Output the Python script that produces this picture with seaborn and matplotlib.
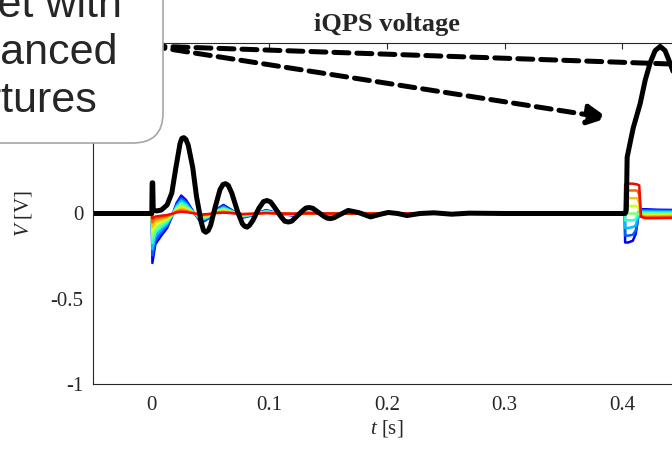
"""iQPS voltage traces: a family of coloured runs plus one highlighted run."""

import matplotlib

matplotlib.use("Agg")
import matplotlib.pyplot as plt
import numpy as np
import pandas as pd
import seaborn as sns
from matplotlib.patches import FancyArrowPatch, FancyBboxPatch
from matplotlib.transforms import IdentityTransform

# ---- data ------------------------------------------------------------------
# time grid shared by the coloured family [s]
t_fan = [-0.05, 0.0, 0.0005, 0.003, 0.008, 0.013, 0.017, 0.021, 0.025, 0.029,
         0.034, 0.042, 0.048, 0.054, 0.061, 0.068, 0.077, 0.086, 0.097, 0.108,
         0.12, 0.135, 0.15, 0.17, 0.2, 0.4,
         0.4022, 0.4025, 0.405, 0.409, 0.4115, 0.413, 0.4145, 0.416, 0.42,
         0.43, 0.45]

# coloured runs, blue (first) to red (last) [V]
fan_blue = [0, 0, -0.29, -0.18, -0.13, -0.085, -0.02, 0.06, 0.105, 0.08, 0.025,
            -0.055, -0.03, 0.02, 0.05, 0.02, -0.025, -0.01, 0.02, 0.0, -0.012,
            0.008, -0.005, 0.003, 0, 0,
            0, -0.17, -0.17, -0.16, -0.12, -0.05, 0.02, 0.025, 0.025, 0.022, 0.02]
fan_blue2 = [0, 0, -0.245, -0.155, -0.11, -0.072, -0.017, 0.051, 0.089, 0.068,
             0.021, -0.047, -0.026, 0.017, 0.043, 0.017, -0.021, -0.009, 0.017,
             0, -0.01, 0.007, -0.004, 0.003, 0, 0,
             0, -0.13, -0.13, -0.125, -0.10, -0.04, 0.015, 0.019, 0.019, 0.017,
             0.015]
fan_azure = [0, 0, -0.21, -0.13, -0.094, -0.061, -0.014, 0.043, 0.076, 0.058,
             0.018, -0.04, -0.022, 0.014, 0.036, 0.014, -0.018, -0.007, 0.014,
             0, -0.009, 0.006, -0.004, 0.002, 0, 0,
             0, -0.085, -0.085, -0.08, -0.07, -0.03, 0.008, 0.012, 0.012, 0.011,
             0.01]
fan_cyan = [0, 0, -0.175, -0.108, -0.078, -0.051, -0.012, 0.036, 0.063, 0.048,
            0.015, -0.033, -0.018, 0.012, 0.03, 0.012, -0.015, -0.006, 0.012,
            0, -0.007, 0.005, -0.003, 0.002, 0, 0,
            0, -0.04, -0.04, -0.04, -0.035, -0.015, 0.0, 0.005, 0.005, 0.005,
            0.004]
fan_green = [0, 0, -0.14, -0.086, -0.062, -0.041, -0.01, 0.029, 0.05, 0.038,
             0.012, -0.026, -0.014, 0.01, 0.024, 0.01, -0.012, -0.005, 0.01,
             0, -0.006, 0.004, -0.002, 0.001, 0, 0,
             0, 0.0, 0.0, 0.0, 0.0, 0.0, -0.003, -0.002, -0.002, -0.002, -0.002]
fan_yellow = [0, 0, -0.107, -0.067, -0.048, -0.031, -0.007, 0.022, 0.039, 0.03,
              0.009, -0.02, -0.011, 0.007, 0.019, 0.007, -0.009, -0.004, 0.007,
              0, -0.004, 0.003, -0.002, 0.001, 0, 0,
              0, 0.045, 0.045, 0.045, 0.045, 0.04, 0.02, -0.008, -0.009,
              -0.008, -0.008]
fan_orange = [0, 0, -0.078, -0.049, -0.035, -0.023, -0.005, 0.016, 0.028, 0.022,
              0.007, -0.015, -0.008, 0.005, 0.014, 0.005, -0.007, -0.003, 0.005,
              0, -0.003, 0.002, -0.001, 0.001, 0, 0,
              0, 0.09, 0.09, 0.09, 0.09, 0.088, 0.06, -0.014, -0.016, -0.015,
              -0.014]
fan_redorange = [0, 0, -0.052, -0.032, -0.023, -0.015, -0.004, 0.011, 0.019,
                 0.014, 0.005, -0.01, -0.005, 0.004, 0.009, 0.004, -0.005,
                 -0.002, 0.004, 0, -0.002, 0.001, -0.001, 0, 0, 0,
                 0, 0.13, 0.135, 0.135, 0.135, 0.133, 0.11, -0.015, -0.022,
                 -0.021, -0.02]
fan_red = [0, 0, -0.029, -0.018, -0.013, -0.009, -0.002, 0.006, 0.01, 0.008,
           0.003, -0.006, -0.003, 0.002, 0.005, 0.002, -0.003, -0.001, 0.002,
           0, -0.001, 0.001, 0, 0, 0, 0,
           0, 0.17, 0.175, 0.175, 0.172, 0.17, 0.165, -0.02, -0.028, -0.027,
           -0.025]
fan_runs = [fan_blue, fan_blue2, fan_azure, fan_cyan, fan_green, fan_yellow,
            fan_orange, fan_redorange, fan_red]

# highlighted run (black)
t_black = [-0.05, 0.0, 0.0003, 0.0008, 0.0012, 0.004, 0.008, 0.013, 0.017,
           0.0205, 0.024, 0.0255, 0.0272, 0.029, 0.031, 0.0348, 0.038, 0.042,
           0.044, 0.0459, 0.048, 0.050, 0.054, 0.058, 0.0605, 0.0628, 0.065,
           0.068, 0.073, 0.077, 0.079, 0.081, 0.083, 0.086, 0.091, 0.095,
           0.098, 0.101, 0.104, 0.110, 0.113, 0.116, 0.119, 0.122, 0.128,
           0.131, 0.134, 0.137, 0.140, 0.146, 0.149, 0.152, 0.155, 0.159,
           0.167, 0.176, 0.186, 0.194, 0.201, 0.209, 0.217, 0.228, 0.240,
           0.255, 0.270, 0.300,
           0.4025, 0.4035, 0.4042, 0.4093, 0.4153, 0.4195, 0.4238, 0.428,
           0.4323, 0.4365, 0.4408, 0.445, 0.45]
v_black = [0, 0, 0.18, 0.18, 0.02, 0.015, 0.02, 0.05, 0.12,
           0.27, 0.41, 0.44, 0.445, 0.435, 0.40, 0.27, 0.10, -0.05,
           -0.10, -0.11, -0.10, -0.07, 0.04, 0.14, 0.17, 0.175, 0.165,
           0.12, 0.01, -0.06, -0.075, -0.08, -0.07, -0.04, 0.03, 0.07,
           0.076, 0.068, 0.04, -0.02, -0.045, -0.05, -0.045, -0.025, 0.015,
           0.032, 0.035, 0.03, 0.015, -0.015, -0.027, -0.03, -0.025, -0.01,
           0.018, 0.005, -0.02, -0.005, 0.006, 0.0, -0.012, 0.0, 0.004,
           -0.004, 0.002, 0.0,
           0.0, 0.02, 0.33, 0.5, 0.645, 0.78, 0.885, 0.955,
           0.98, 0.955, 0.88, 0.80, 0.72]

x_ticks = [0, 0.1, 0.2, 0.3, 0.4]
x_tick_labels = ["0", "0.1", "0.2", "0.3", "0.4"]
y_ticks = [-1, -0.5, 0, 0.5, 1]
# the 0.5 and 1 labels sit under the callout box in the reference
y_tick_labels = ["-1", "-0.5", "0", "", ""]

callout = "Magnet with\nunbalanced\napertures"

# ---- theme ---------------------------------------------------------------
sns.set_style("white")
plt.rcParams.update({
    "font.family": ["Liberation Serif", "DejaVu Serif"],
    "mathtext.fontset": "custom",
    "mathtext.rm": "Liberation Serif",
    "mathtext.it": "Liberation Serif:italic",
    "axes.edgecolor": "#262626",
    "axes.linewidth": 0.8,
})

W, H = 672, 457
fig = plt.figure(figsize=(W / 100, H / 100), dpi=100)
ax = fig.add_axes([93 / W, 73 / H, 588 / W, 341 / H])

fan = pd.concat(
    [pd.DataFrame({"t": t_fan, "V": run, "run": i}) for i, run in enumerate(fan_runs)],
    ignore_index=True,
)
palette = [plt.cm.jet(p) for p in np.linspace(0.12, 0.9, len(fan_runs))]
sns.lineplot(data=fan, x="t", y="V", hue="run", palette=palette, estimator=None,
             sort=False, lw=1.8, legend=False, ax=ax)
sns.lineplot(x=t_black, y=v_black, color="black", lw=3.6, estimator=None,
             sort=False, ax=ax)

ax.set_xlim(-0.05, 0.45)
ax.set_ylim(-1, 1)
ax.set_xticks(x_ticks, x_tick_labels)
ax.set_yticks(y_ticks, y_tick_labels)
ax.tick_params(direction="in", length=4.5, width=0.8, top=True, right=True,
               labelsize=15, colors="#262626")
ax.tick_params(axis="x", pad=9)
ax.tick_params(axis="y", pad=7)
for s in ax.spines.values():
    s.set_visible(True)
ax.set_xlabel("$t$ [s]", fontsize=15, labelpad=2)
ax.set_ylabel("$V$ [V]", fontsize=15, labelpad=12)
ax.set_title("iQPS voltage", fontsize=19, fontweight="bold", pad=9)

# ---- callout with dashed arrows (figure pixels) --------------------------
px = IdentityTransform()
for tip in [(700, H - 65), (608, H - 118)]:
    fig.add_artist(FancyArrowPatch(
        (150, H - 46), tip, transform=px, arrowstyle="-|>", mutation_scale=30,
        lw=3.6, linestyle=(0, (3, 1.6)), color="black", shrinkA=0, shrinkB=0,
        zorder=4))
fig.add_artist(FancyBboxPatch(
    (-200, H - 143), 363, 220, boxstyle="round,pad=0,rounding_size=30",
    transform=px, facecolor="white", edgecolor="#a6a6a6", lw=1.2, zorder=5))
fig.text(6, H - 112, callout, transform=px, ha="center", va="baseline",
         fontsize=31, family=["Liberation Sans", "DejaVu Sans"],
         linespacing=1.25, zorder=6)

fig.savefig("out.png", dpi=100)
